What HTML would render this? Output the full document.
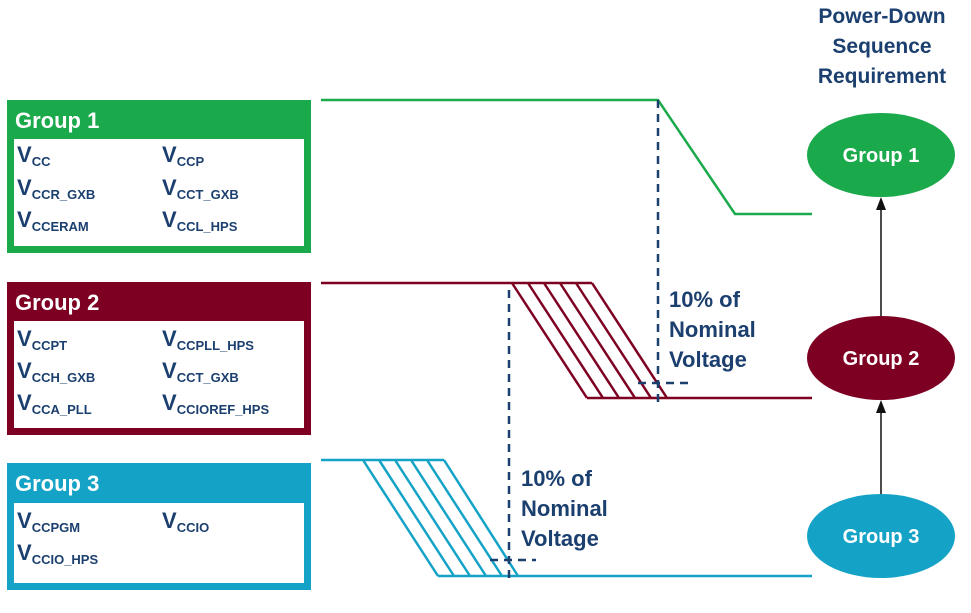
<!DOCTYPE html>
<html><head><meta charset="utf-8"><style>
body{margin:0;background:#fff}
svg text{font-family:"Liberation Sans",sans-serif;font-weight:bold}
</style></head><body>
<svg width="971" height="608" viewBox="0 0 971 608" xmlns="http://www.w3.org/2000/svg">
<!-- boxes -->
<rect x="7" y="100" width="304" height="153" fill="#1aa94b"/>
<rect x="14" y="139" width="290" height="107" fill="#fff"/>
<rect x="7" y="282" width="304" height="153" fill="#7d0022"/>
<rect x="14" y="321" width="290" height="107" fill="#fff"/>
<rect x="7" y="463" width="304" height="127" fill="#14a3c7"/>
<rect x="14" y="503" width="290" height="80" fill="#fff"/>
<g fill="#fff" font-size="22"><text x="15" y="128">Group 1</text><text x="15" y="310">Group 2</text><text x="15" y="491">Group 3</text></g>
<g fill="#1b3f6e" font-size="22">
<text x="17" y="162">V<tspan font-size="13" dy="4">CC</tspan></text>
<text x="162" y="162">V<tspan font-size="13" dy="4">CCP</tspan></text>
<text x="17" y="195">V<tspan font-size="13" dy="4">CCR_GXB</tspan></text>
<text x="162" y="195">V<tspan font-size="13" dy="4">CCT_GXB</tspan></text>
<text x="17" y="227">V<tspan font-size="13" dy="4">CCERAM</tspan></text>
<text x="162" y="227">V<tspan font-size="13" dy="4">CCL_HPS</tspan></text>
<text x="17" y="346">V<tspan font-size="13" dy="4">CCPT</tspan></text>
<text x="162" y="346">V<tspan font-size="13" dy="4">CCPLL_HPS</tspan></text>
<text x="17" y="378">V<tspan font-size="13" dy="4">CCH_GXB</tspan></text>
<text x="162" y="378">V<tspan font-size="13" dy="4">CCT_GXB</tspan></text>
<text x="17" y="410">V<tspan font-size="13" dy="4">CCA_PLL</tspan></text>
<text x="162" y="410">V<tspan font-size="13" dy="4">CCIOREF_HPS</tspan></text>
<text x="17" y="528">V<tspan font-size="13" dy="4">CCPGM</tspan></text>
<text x="162" y="528">V<tspan font-size="13" dy="4">CCIO</tspan></text>
<text x="17" y="560">V<tspan font-size="13" dy="4">CCIO_HPS</tspan></text>
</g>
<!-- waveforms -->
<polyline points="321,100 658,100 735,214 812,214" fill="none" stroke="#1aa94b" stroke-width="2.5"/>
<g fill="none" stroke="#7d0022" stroke-width="2.5">
<polyline points="321,283 592,283"/><polyline points="587,398 812,398"/>
<line x1="512" y1="283" x2="587" y2="398"/><line x1="528" y1="283" x2="603" y2="398"/><line x1="544" y1="283" x2="619" y2="398"/><line x1="560" y1="283" x2="635" y2="398"/><line x1="576" y1="283" x2="651" y2="398"/><line x1="592" y1="283" x2="667" y2="398"/>
</g>
<g fill="none" stroke="#14a3c7" stroke-width="2.5">
<polyline points="321,460 444,460"/><polyline points="438,576 812,576"/>
<line x1="363" y1="460" x2="438" y2="576"/><line x1="379" y1="460" x2="454" y2="576"/><line x1="395" y1="460" x2="470" y2="576"/><line x1="411" y1="460" x2="486" y2="576"/><line x1="427" y1="460" x2="502" y2="576"/><line x1="444" y1="460" x2="518" y2="576"/>
</g>
<g stroke="#1b3f6e" stroke-width="2.5" stroke-dasharray="8,6" fill="none">
<line x1="658" y1="100" x2="658" y2="403"/>
<line x1="509" y1="290" x2="509" y2="580"/>
<line x1="638" y1="383" x2="688" y2="383"/>
<line x1="490" y1="560" x2="536" y2="560"/>
</g>
<g fill="#1b3f6e" font-size="22">
<text x="669" y="307">10% of</text><text x="669" y="337">Nominal</text><text x="669" y="367">Voltage</text>
<text x="521" y="486">10% of</text><text x="521" y="516">Nominal</text><text x="521" y="546">Voltage</text>
<text x="882" y="23" text-anchor="middle" font-size="21">Power-Down</text>
<text x="882" y="53" text-anchor="middle" font-size="21">Sequence</text>
<text x="882" y="83" text-anchor="middle" font-size="21">Requirement</text>
</g>
<!-- arrows -->
<line x1="881" y1="316" x2="881" y2="205" stroke="#111" stroke-width="1.5"/>
<polygon points="881,197 876,210 886,210" fill="#111"/>
<line x1="881" y1="494" x2="881" y2="408" stroke="#111" stroke-width="1.5"/>
<polygon points="881,400 876,413 886,413" fill="#111"/>
<ellipse cx="881" cy="155" rx="74" ry="42" fill="#1aa94b"/>
<ellipse cx="881" cy="358" rx="74" ry="42" fill="#7d0022"/>
<ellipse cx="881" cy="536" rx="74" ry="42" fill="#14a3c7"/>
<g fill="#fff" font-size="20" text-anchor="middle"><text x="881" y="162">Group 1</text><text x="881" y="365">Group 2</text><text x="881" y="543">Group 3</text></g>
</svg>
</body></html>
